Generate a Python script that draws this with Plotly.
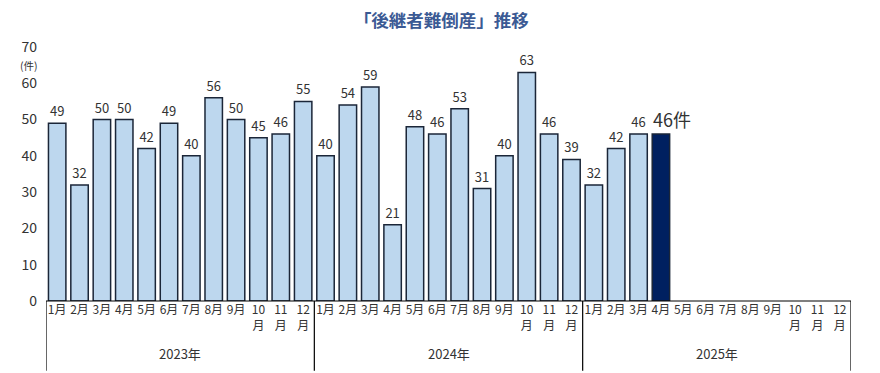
import plotly.graph_objects as go

years = ["2023年", "2024年", "2025年"]
values_2023 = [49, 32, 50, 50, 42, 49, 40, 56, 50, 45, 46, 55]
values_2024 = [40, 54, 59, 21, 48, 46, 53, 31, 40, 63, 46, 39]
values_2025 = [32, 42, 46, 46]
y_ticks = [0, 10, 20, 30, 40, 50, 60, 70]

values = values_2023 + values_2024 + values_2025 + [None] * (12 - len(values_2025))
n = len(values)
x = list(range(n))
last = len(values_2023) + len(values_2024) + len(values_2025) - 1

tick_text = []
for y in years:
    for m in range(1, 13):
        tick_text.append(f"{m}月" if m < 10 else f"{m}<br>月")

colors = ["#bdd7ee"] * n
colors[last] = "#002060"
texts = ["" if v is None else str(v) for v in values]
texts[last] = ""

FONT = "Noto Sans CJK JP"

fig = go.Figure()
fig.add_trace(go.Bar(
    x=x, y=values,
    marker=dict(color=colors, line=dict(color="#1b2638", width=1.5)),
    text=texts, textposition="outside", cliponaxis=False, constraintext="none",
    textfont=dict(size=13, color="#333333", family=FONT),
    hoverinfo="skip",
))

shapes = [dict(type="line", xref="x", yref="paper", x0=-0.5, x1=n - 0.5, y0=0, y1=0,
               line=dict(color="#000000", width=1.2))]
for i in range(len(years) + 1):
    xb = i * 12 - 0.5
    shapes.append(dict(type="line", xref="x", yref="paper", x0=xb, x1=xb, y0=0, y1=-0.275,
                       line=dict(color="#000000", width=1.2)))

annotations = [dict(text="(件)", xref="paper", yref="paper", x=-0.008, y=0.926,
                    xanchor="right", yanchor="middle", showarrow=False,
                    font=dict(size=10.5, color="#333333", family=FONT)),
               dict(text=f"{values[last]}件", xref="x", yref="y", x=last, y=values[last],
                    xanchor="left", yanchor="bottom", xshift=-10, yshift=0, showarrow=False,
                    font=dict(size=18, color="#333333", family=FONT))]
for i, yr in enumerate(years):
    annotations.append(dict(text=yr, xref="x", yref="paper", x=i * 12 + 5.5, y=-0.205,
                            xanchor="center", yanchor="middle", showarrow=False,
                            font=dict(size=13, color="#333333", family=FONT)))

fig.update_layout(
    width=872, height=365,
    margin=dict(l=38, r=29, t=39, b=72, autoexpand=False),
    paper_bgcolor="white", plot_bgcolor="white",
    title=dict(text="<b>「後継者難倒産」推移</b>", x=0.497, xanchor="center",
               y=0.964, yref="container", yanchor="middle",
               font=dict(size=17.5, color="#3b5a94", family=FONT)),
    bargap=0.22,
    showlegend=False,
    xaxis=dict(tickmode="array", tickvals=x, ticktext=tick_text, range=[-0.5, n - 0.5],
               showgrid=False, zeroline=False, showline=False, ticks="", automargin=False,
               tickangle=0, tickfont=dict(size=12, color="#333333", family=FONT)),
    yaxis=dict(range=[0, 70], tickvals=y_ticks, showgrid=False, zeroline=False, showline=False,
               ticks="", ticklabelstandoff=8, automargin=False,
               tickfont=dict(size=14, color="#333333", family=FONT)),
    shapes=shapes, annotations=annotations,
)

fig.write_html("out.html")
